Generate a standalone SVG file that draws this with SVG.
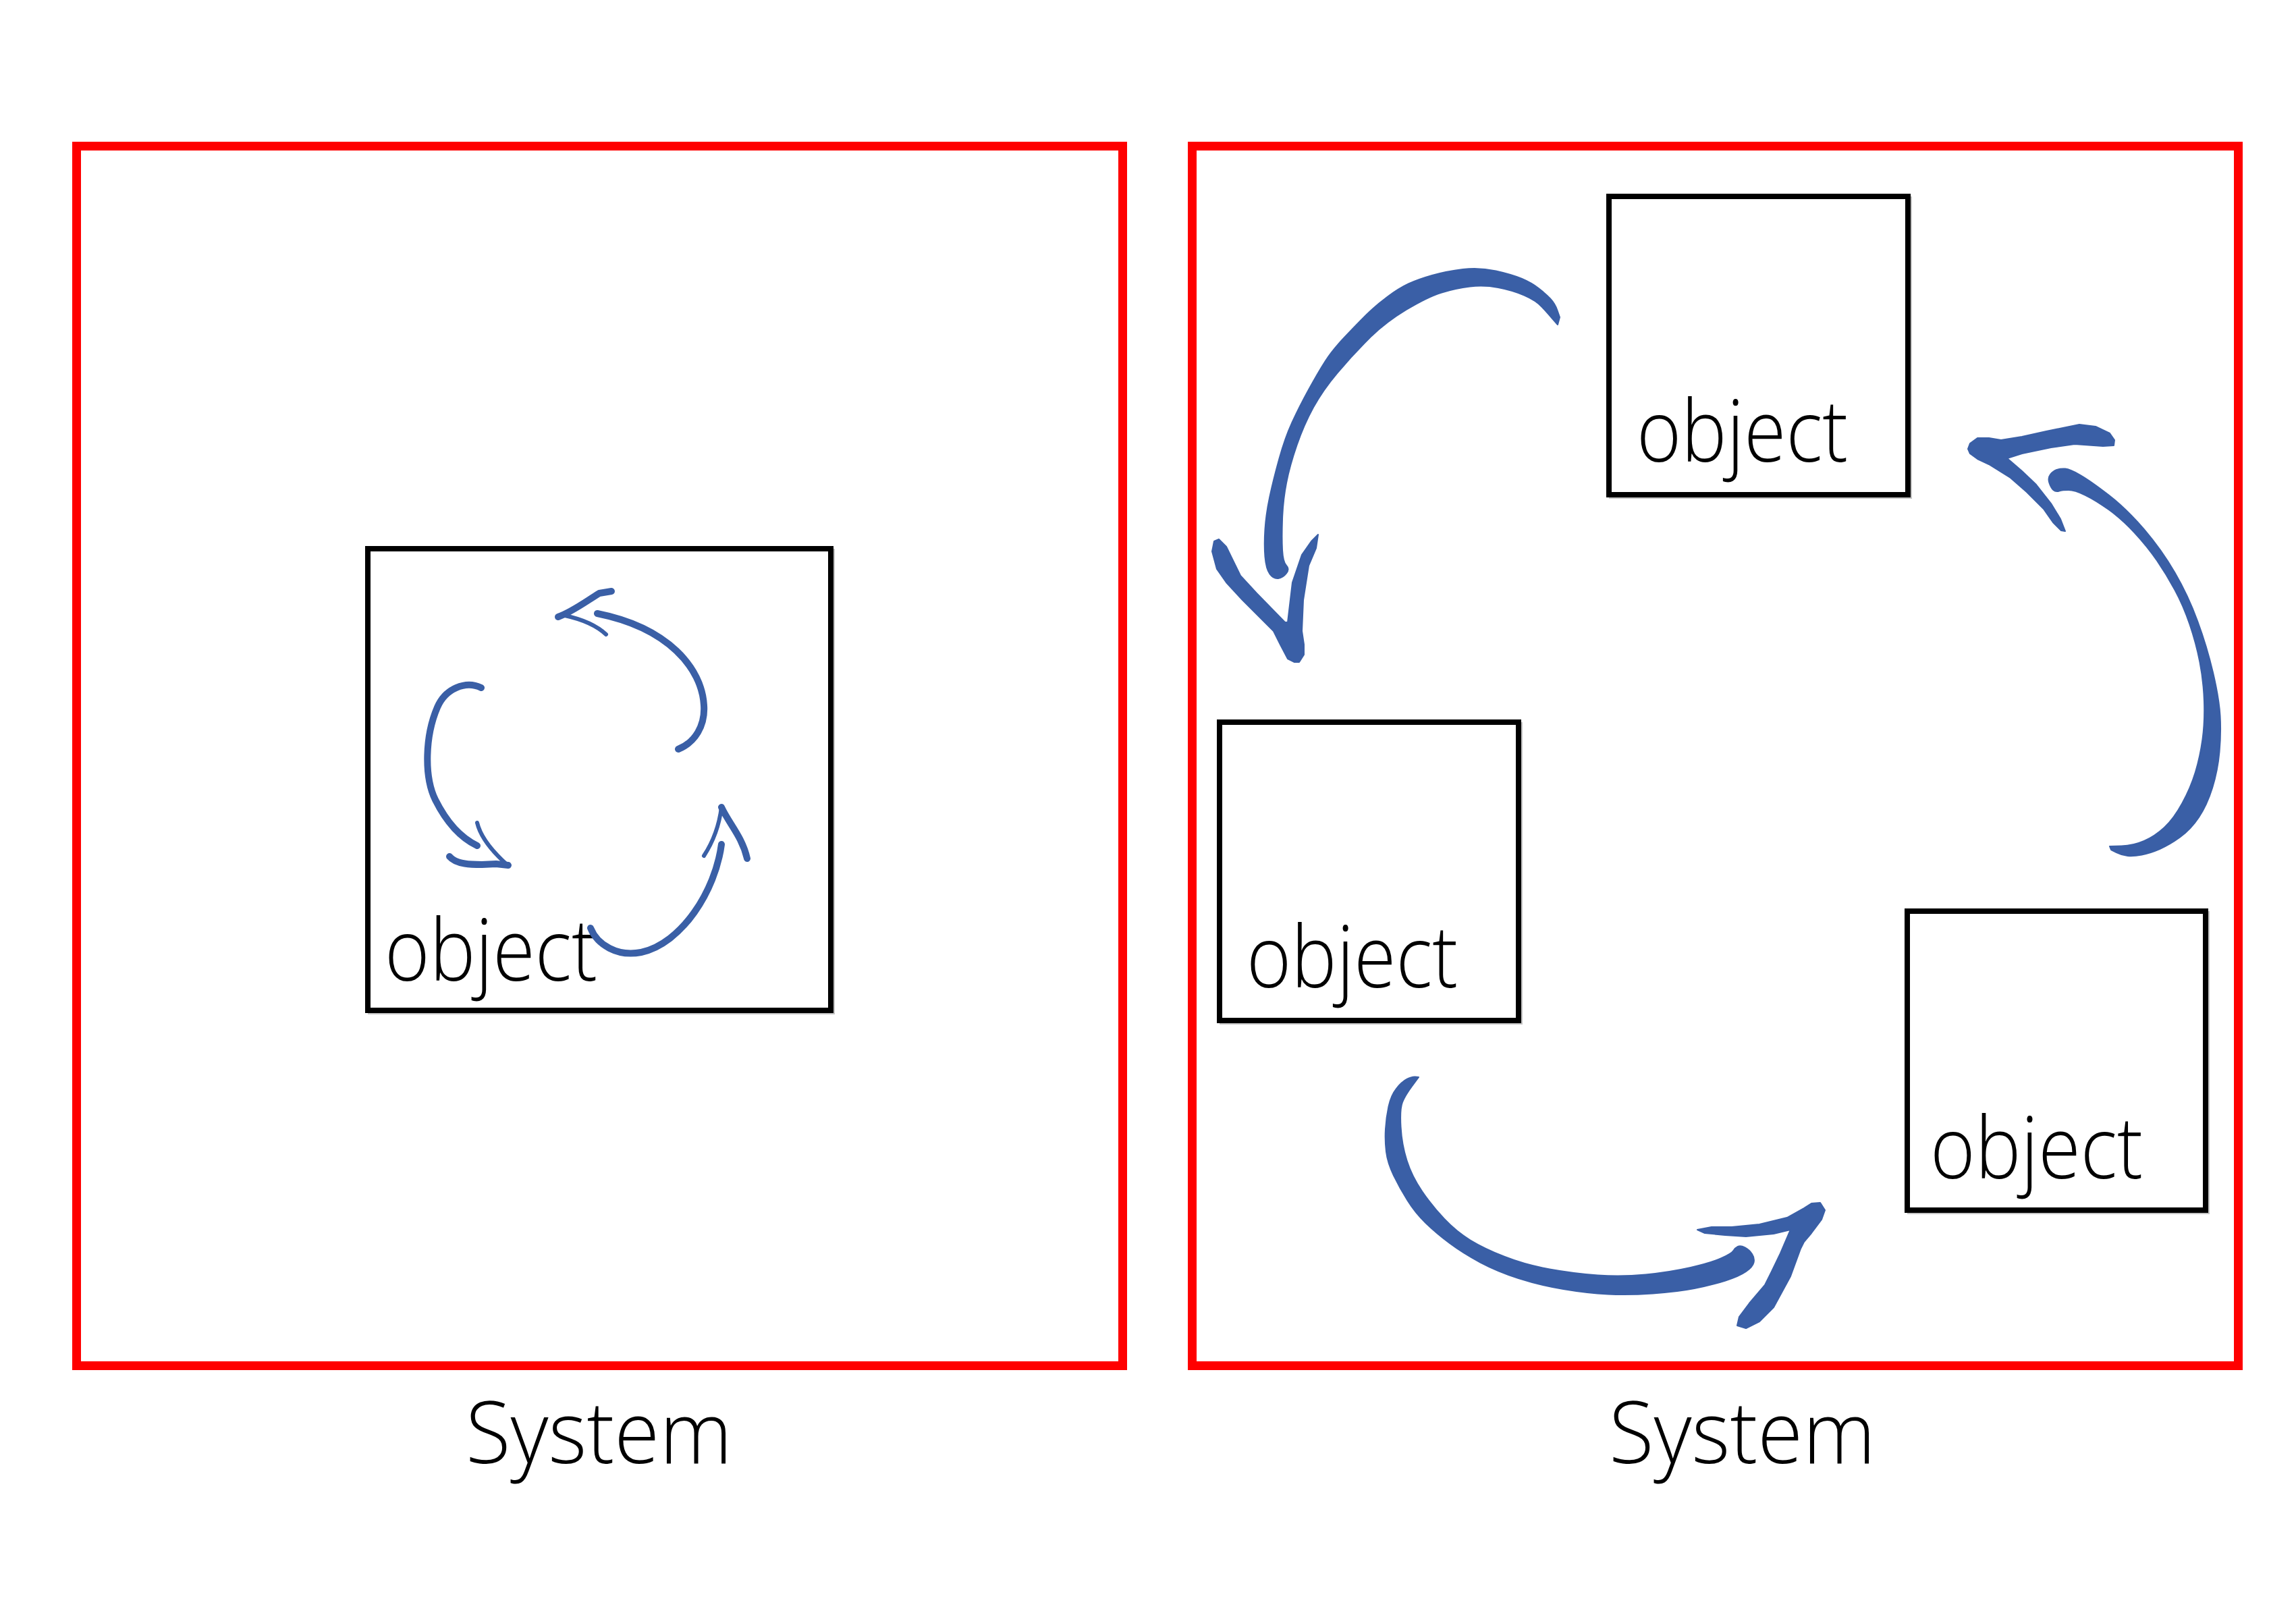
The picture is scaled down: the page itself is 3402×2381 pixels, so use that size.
<svg xmlns="http://www.w3.org/2000/svg" width="3402" height="2381" viewBox="0 0 3402 2381">
<style>
.sys{fill:none;stroke:#ff0000;stroke-width:13}
.obj{fill:#fff;stroke:#000;stroke-width:8}
.shd{fill:none;stroke:#c4c4c4;stroke-width:6}
.lbl{font-family:"Open Sans","Liberation Sans",sans-serif;font-weight:300;fill:#000}
.big{fill:#3a5fa6;stroke:#3a5fa6;stroke-width:2;stroke-linejoin:round}
.sm{fill:none;stroke:#3a5fa6;stroke-linecap:round;stroke-linejoin:round}
</style>
<rect width="3402" height="2381" fill="#fff"/>
<g id="system-left">
<rect class="sys" x="113.5" y="216.5" width="1550" height="1807"/>
<text class="lbl" x="690" y="2168" font-size="128" textLength="395" lengthAdjust="spacingAndGlyphs">System</text>
</g>
<g id="system-right">
<rect class="sys" x="1766.5" y="216.5" width="1550" height="1807"/>
<text class="lbl" x="2384" y="2168" font-size="128" textLength="395" lengthAdjust="spacingAndGlyphs">System</text>
</g>
<g id="object-single">
<rect class="shd" x="548" y="816" width="686" height="684"/>
<rect class="obj" x="545" y="813" width="686" height="684"/>
<text class="lbl" x="570" y="1453" font-size="128" textLength="315" lengthAdjust="spacingAndGlyphs">object</text>
</g>
<g id="object-top">
<rect class="shd" x="2387" y="294" width="443" height="442"/>
<rect class="obj" x="2384" y="291" width="443" height="442"/>
<text class="lbl" x="2425" y="684" font-size="128" textLength="313" lengthAdjust="spacingAndGlyphs">object</text>
</g>
<g id="object-middle">
<rect class="shd" x="1810" y="1073" width="443" height="442"/>
<rect class="obj" x="1807" y="1070" width="443" height="442"/>
<text class="lbl" x="1847" y="1463" font-size="128" textLength="313" lengthAdjust="spacingAndGlyphs">object</text>
</g>
<g id="object-bottom">
<rect class="shd" x="2829" y="1353" width="442" height="443"/>
<rect class="obj" x="2826" y="1350" width="442" height="443"/>
<text class="lbl" x="2860" y="1746" font-size="128" textLength="315" lengthAdjust="spacingAndGlyphs">object</text>
</g>
<g id="connectors">
<!-- small loop inside single object -->
<path class="sm" stroke-width="10" d="M1005 1110 C1030 1100 1045 1075 1043 1045 C1040 990 990 930 885 909"/>
<path class="sm" stroke-width="10" d="M827 914 C847 907 867 892 888 879 L906 876"/>
<path class="sm" stroke-width="6" d="M837 912 C860 917 882 925 898 940"/>
<path class="sm" stroke-width="10" d="M713 1019 C690 1008 660 1020 648 1048 C630 1090 628 1150 645 1185 C660 1215 680 1240 707 1253"/>
<path class="sm" stroke-width="6" d="M707 1219 C712 1240 728 1260 750 1280"/>
<path class="sm" stroke-width="10" d="M666 1269 C676 1281 700 1281 714 1281 L735 1280 L753 1282"/>
<path class="sm" stroke-width="10" d="M875 1375 C885 1400 915 1418 950 1411 C1010 1398 1060 1320 1069 1251"/>
<path class="sm" stroke-width="6" d="M1069 1196 C1066 1220 1058 1245 1043 1268"/>
<path class="sm" stroke-width="10" d="M1069 1196 C1080 1220 1100 1240 1107 1272"/>
<!-- top object to middle object -->
<path class="big" d="M2311 470 L2307.5 460 Q2304 450 2297 442.5 Q2290 435 2279.5 427 Q2269 419 2255 413 Q2241 407 2216.5 401.5 Q2192 396 2167.5 399 Q2143 402 2122 408 Q2101 414 2087 420.5 Q2073 427 2055.5 440 Q2038 453 2024 467 Q2010 481 1992 500 Q1974 519 1963.5 535.5 Q1953 552 1939 577.5 Q1925 603 1914.5 626 Q1904 649 1895.5 679.5 Q1887 710 1881.5 735.5 Q1876 761 1874.5 784 Q1873 807 1874.5 825 Q1876 843 1881.5 850.5 Q1887 858 1894 857 Q1901 856 1906 849.5 Q1911 843 1906 838 Q1901 833 1900 815 Q1899 797 1900 769 Q1901 741 1906 715.5 Q1911 690 1921.5 659.5 Q1932 629 1946 603.5 Q1960 578 1981.5 552.5 Q2003 527 2027.5 502.5 Q2052 478 2083.5 459 Q2115 440 2136 433.5 Q2157 427 2178 424.5 Q2199 422 2220 426 Q2241 430 2258.5 437.5 Q2276 445 2285 455 Q2294 465 2301 473 L2308 481 Z"/>
<polygon class="big" points="1918,981 1908,976 1897,955 1887,935 1866,914 1841,889 1817,863 1803,843 1796,817 1799,802 1806,799 1817,810 1838,853 1862,879 1904,922 1908,922 1915,863 1929,822 1943,802 1953,792 1950,812 1939,838 1931,889 1929,935 1932,955 1932,970 1925,981"/>
<!-- middle object to bottom object -->
<path class="big" d="M2102 1596 L2097 1595.5 Q2092 1595 2084.5 1599 Q2077 1603 2069 1613 Q2061 1623 2057.5 1639.5 Q2054 1656 2053 1673 Q2052 1690 2054 1706.5 Q2056 1723 2065 1741.5 Q2074 1760 2085.5 1778.5 Q2097 1797 2112.5 1812 Q2128 1827 2148 1842 Q2168 1857 2193.5 1870.5 Q2219 1884 2250 1894 Q2281 1904 2316.5 1910 Q2352 1916 2382.5 1917.5 Q2413 1919 2449 1916.5 Q2485 1914 2510.5 1909 Q2536 1904 2556.5 1897.5 Q2577 1891 2587 1884 Q2597 1877 2598.5 1870.5 Q2600 1864 2596 1858 Q2592 1852 2585.5 1848.5 Q2579 1845 2575 1847 Q2571 1849 2568.5 1853 Q2566 1857 2551 1864 Q2536 1871 2505 1878 Q2474 1885 2438.5 1888.5 Q2403 1892 2367.5 1889.5 Q2332 1887 2296 1880.5 Q2260 1874 2229.5 1862 Q2199 1850 2178.5 1837.5 Q2158 1825 2140 1806 Q2122 1787 2107 1765 Q2092 1743 2084.5 1719.5 Q2077 1696 2075.5 1669.5 Q2074 1643 2078 1633 Q2082 1623 2092 1609.5 L2102 1596 Z"/>
<polygon class="big" points="2515,1822 2536,1818 2566,1818 2607,1814 2648,1804 2673,1790 2684,1783 2697,1782 2704,1793 2699,1807 2684,1827 2673,1840 2668,1850 2653,1891 2628,1937 2607,1958 2587,1968 2574,1964 2577,1951 2592,1931 2615,1904 2625,1884 2638,1857 2653,1822 2628,1828 2587,1832 2556,1830 2526,1827"/>
<!-- bottom object to top object -->
<path class="big" d="M3126 1254 L3143.5 1253.5 Q3161 1253 3177 1246 Q3193 1239 3207 1226 Q3221 1213 3233.5 1190 Q3246 1167 3253 1144 Q3260 1121 3263.5 1095.5 Q3267 1070 3266 1039.5 Q3265 1009 3259.5 981 Q3254 953 3244.5 925 Q3235 897 3222.5 874 Q3210 851 3196 830.5 Q3182 810 3163 789.5 Q3144 769 3124.5 755 Q3105 741 3089.5 733.5 Q3074 726 3065 726 Q3056 726 3051 727.5 Q3046 729 3042.5 726 Q3039 723 3036.5 715.5 Q3034 708 3038 703 Q3042 698 3047.5 696 Q3053 694 3060 694.5 Q3067 695 3082.5 704 Q3098 713 3124.5 733.5 Q3151 754 3177 784.5 Q3203 815 3222.5 848.5 Q3242 882 3256 920 Q3270 958 3279 996.5 Q3288 1035 3289.5 1060.5 Q3291 1086 3288.5 1114 Q3286 1142 3278 1167.5 Q3270 1193 3258 1211 Q3246 1229 3230 1240.5 Q3214 1252 3200 1258 Q3186 1264 3173.5 1266.5 Q3161 1269 3152.5 1268 Q3144 1267 3136 1263 L3128 1259 Z"/>
<polygon class="big" points="2916,665 2919,657 2930,649 2947,649 2965,652 2996,647 3032,639 3081,629 3105,632 3126,642 3133,652 3132,660 3116,661 3074,658 3039,663 2996,672 2974,679 2996,698 3017,718 3039,746 3053,769 3060,787 3054,786 3042,774 3028,754 3003,729 2979,708 2947,688 2930,680 2919,672"/>
</g>
</svg>
